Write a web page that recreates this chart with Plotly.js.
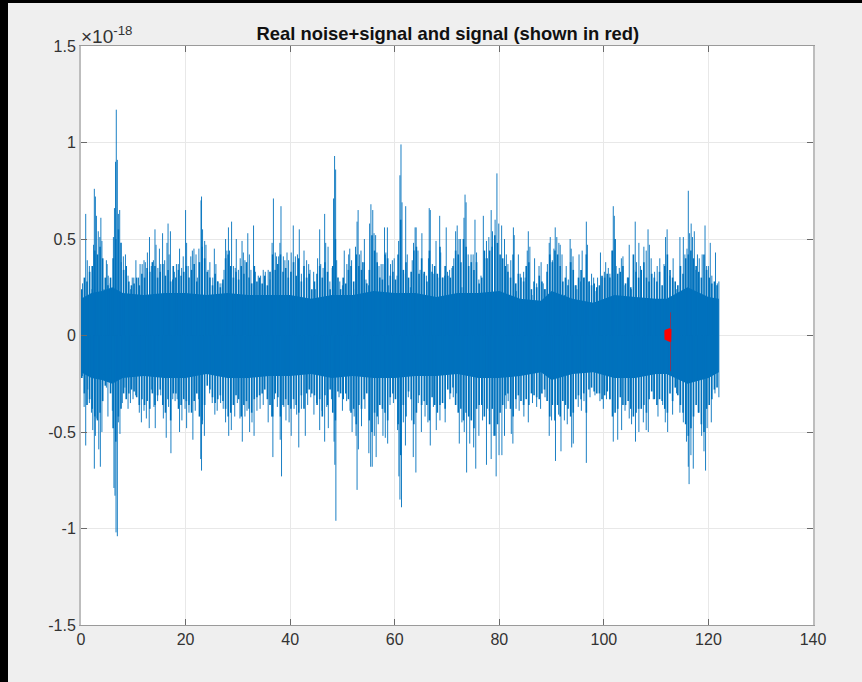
<!DOCTYPE html>
<html><head><meta charset="utf-8">
<script src="https://cdn.plot.ly/plotly-3.0.1.min.js"></script>
<style>html,body{margin:0;padding:0;background:#efefef;overflow:hidden}
#frame{position:absolute;left:0;top:0;width:854px;height:679px;border-left:8px solid #000;border-top:3px solid #000}
#plot{width:854px;height:679px}</style></head><body><div id="frame"><div id="plot"></div></div>
<script>
const titleText='Real noise+signal and signal (shown in red)';
const xTicks=[0,20,40,60,80,100,120,140];
const yTicks=[-1.5,-1,-0.5,0,0.5,1,1.5];
const yTickText=['-1.5','-1','-0.5','0','0.5','1','1.5'];
// upper spikes, in units of 1e-18
const upT=[0.3,0.9,1.2,1.6,2.1,2.4,2.55,2.75,2.95,3.3,3.6,3.8,4.0,4.4,4.85,5.0,5.2,5.6,6.0,6.2,6.4,6.6,6.75,6.95,7.15,7.4,7.7,8.1,8.5,9.0,9.5,9.8,10.1,10.5,11.0,11.3,11.7,12.05,12.3,12.7,13.1,13.45,13.85,14.15,14.35,14.7,15.0,15.25,15.6,16.0,16.45,16.65,16.85,17.1,17.5,17.85,18.25,18.6,18.85,19.25,19.55,20.0,20.2,20.5,21,21.3,21.6,22,22.25,22.55,22.95,23.05,23.25,23.65,23.9,24.3,24.65,25.2,25.5,25.8,26.15,26.6,27,27.35,27.65,27.9,28.2,28.4,28.8,29.15,29.5,29.7,30.1,30.45,30.8,31.05,31.35,31.9,32.2,32.5,33,33.35,33.9,34.35,34.85,35.25,35.8,36.15,36.55,36.8,37.15,37.4,37.8,38.05,38.25,38.7,39,39.4,39.7,
40.2,40.6,41,41.4,41.75,42.15,42.65,43.15,43.55,43.8,44.5,44.8,45.25,45.65,45.85,46.3,46.6,46.8,47.25,47.6,48.05,48.3,48.5,48.7,48.9,49.5,50,50.35,50.85,51.2,51.4,51.75,52.15,52.5,52.8,53,53.25,53.55,53.85,54.2,54.5,55,55.2,55.45,55.8,56.05,56.35,56.6,57,57.4,57.75,58.05,58.3,58.6,58.85,59.2,59.55,59.9,60.45,60.75,61,61.2,61.4,61.7,62.1,62.4,63,63.35,63.6,63.9,64.1,64.45,64.85,65.2,65.6,66.05,66.45,66.6,66.8,67.2,67.5,67.9,68.25,68.6,68.8,69.2,69.55,69.85,70.1,70.5,70.95,71.3,71.65,71.95,72.3,72.55,72.85,73.25,73.45,73.65,74.05,74.6,75,75.35,75.65,76.1,76.5,76.95,77.25,77.55,78,78.45,78.7,79.2,79.55,79.9,80.45,81,81.35,81.65,
82.2,82.7,82.85,83.25,83.65,84,84.65,84.95,85.35,85.55,85.85,86.25,86.75,87.15,87.6,88,88.4,88.8,89.2,89.55,89.75,90.15,90.45,90.7,91,91.4,91.65,92,92.5,92.8,93.2,93.55,93.75,94.1,94.5,94.85,95.25,95.55,95.85,96.25,96.65,96.85,97.25,97.65,98.05,98.5,98.8,99.35,99.65,100.1,100.35,100.85,101.15,101.55,101.8,102,102.35,102.95,103.35,103.65,104.05,104.5,104.85,105.25,105.7,106,106.25,106.7,107,107.65,108.1,108.45,108.7,109.05,109.7,110.2,110.7,111.5,111.8,112.1,112.65,113.25,113.95,114.55,115.2,115.5,115.9,116.15,116.4,116.7,116.95,117.3,117.6,117.9,118.25,118.8,119.35,119.65,120,120.35,120.65,121.35,121.7,122];
const upV=[0.27,0.63,0.39,0.36,0.24,0.47,0.76,0.72,0.62,0.54,0.51,0.61,0.49,0.24,0.39,0.37,0.31,0.27,0.24,0.51,0.66,0.90,1.17,0.91,0.63,0.65,0.38,0.41,0.42,0.31,0.24,0.30,0.30,0.39,0.30,0.37,0.37,0.39,0.38,0.43,0.51,0.36,0.39,0.55,0.47,0.35,0.45,0.37,0.53,0.39,0.48,0.58,0.42,0.54,0.29,0.33,0.37,0.37,0.45,0.35,0.41,0.65,0.48,0.36,0.41,0.44,0.45,0.42,0.30,0.45,0.70,0.72,0.55,0.49,0.47,0.34,0.38,0.30,0.45,0.37,0.28,0.27,0.27,0.34,0.50,0.44,0.56,0.44,0.59,0.36,0.35,0.50,0.34,0.40,0.49,0.43,0.39,0.53,0.42,0.34,0.57,0.33,0.31,0.31,0.34,0.33,0.34,0.29,0.48,0.71,0.43,0.41,0.41,0.48,0.67,0.41,0.39,0.43,0.39,
0.43,0.57,0.41,0.42,0.55,0.32,0.44,0.39,0.37,0.34,0.33,0.24,0.40,0.55,0.37,0.35,0.63,0.48,0.46,0.28,0.35,0.71,0.93,0.86,0.39,0.28,0.26,0.44,0.37,0.42,0.45,0.39,0.24,0.46,0.59,0.65,0.42,0.44,0.38,0.50,0.29,0.26,0.58,0.68,0.65,0.53,0.52,0.43,0.36,0.37,0.37,0.56,0.43,0.56,0.26,0.37,0.39,0.40,0.31,0.49,0.83,0.99,0.69,0.32,0.67,0.42,0.25,0.39,0.48,0.56,0.56,0.44,0.34,0.53,0.32,0.31,0.40,0.66,0.65,0.37,0.32,0.49,0.30,0.62,0.43,0.30,0.31,0.56,0.33,0.34,0.35,0.40,0.54,0.57,0.50,0.50,0.25,0.61,0.73,0.69,0.42,0.42,0.42,0.60,0.43,0.29,0.31,0.62,0.40,0.49,0.51,0.65,0.54,0.60,0.84,0.58,0.57,0.50,0.42,0.37,
0.39,0.56,0.52,0.23,0.42,0.32,0.33,0.30,0.44,0.54,0.46,0.21,0.40,0.27,0.36,0.38,0.27,0.24,0.37,0.48,0.51,0.39,0.45,0.56,0.51,0.48,0.47,0.42,0.21,0.36,0.29,0.50,0.45,0.41,0.26,0.24,0.42,0.28,0.44,0.30,0.59,0.47,0.28,0.32,0.30,0.23,0.30,0.43,0.30,0.33,0.38,0.35,0.32,0.44,0.67,0.62,0.36,0.35,0.40,0.41,0.26,0.30,0.47,0.24,0.34,0.59,0.38,0.48,0.36,0.46,0.44,0.55,0.47,0.40,0.33,0.36,0.40,0.37,0.51,0.55,0.31,0.40,0.24,0.51,0.51,0.42,0.45,0.75,0.53,0.58,0.51,0.54,0.34,0.42,0.40,0.42,0.57,0.36,0.36,0.48,0.31,0.43,0.27,0.28];
// lower spikes
const lowT=[0.3,0.6,0.9,1.3,1.6,2,2.25,2.55,2.75,3.05,3.4,3.7,4,4.4,4.85,5.15,5.55,6,6.3,6.5,6.7,6.95,7.15,7.45,7.9,8.4,9,9.45,9.95,10.45,11.15,11.55,12.05,12.5,13.05,13.45,13.95,14.2,14.65,15.25,15.75,16.3,16.75,17.2,17.55,18,18.4,18.85,19.3,19.9,20.2,20.65,21.4,21.85,22.5,22.9,23.05,23.25,23.6,24.1,24.6,25.1,25.6,26.05,26.7,27.2,27.65,28.25,28.75,29.4,29.9,30.4,30.85,31.35,31.75,32.25,32.7,33.1,33.65,34.25,34.85,35.8,36.45,36.7,37,37.55,38.1,38.35,38.8,39.2,39.8,
40.2,40.75,41.25,41.65,42.15,42.9,43.35,43.95,44.55,45.05,45.65,46.1,46.6,47,47.3,47.9,48.4,48.55,48.75,49.35,50,50.8,51.45,51.85,52.25,52.6,52.8,53.05,53.65,54.3,55.05,55.4,55.7,56.1,56.45,56.85,57.75,58.2,58.65,59.1,59.75,60.55,60.8,61,61.3,61.65,62.05,62.6,63.25,63.55,64.05,64.5,65.1,65.8,66.35,66.8,67.4,67.95,68.65,69.65,70.55,71.2,71.85,72.35,72.85,73.3,73.75,74.35,75.1,75.5,76.1,76.8,77.55,78.1,78.45,78.95,79.4,79.95,80.5,81,81.3,81.7,
82.3,82.6,83.2,83.8,84.7,85.55,86.35,87.15,87.9,88.75,89.55,90,90.75,91.35,91.8,92.45,93,93.85,94.15,95.1,95.7,96.2,96.65,97.35,98.3,99.25,99.9,100.5,101.15,101.8,102.65,103.4,104.05,104.85,105.3,106.05,106.7,107.55,108.1,108.5,109.45,110.35,111.25,111.75,112.2,113.15,113.9,114.55,115.2,115.8,116.15,116.3,116.65,117.1,118.05,118.7,119.15,119.45,119.75,120.55,121.25,122];
const lowV=[-0.21,-0.37,-0.57,-0.28,-0.35,-0.40,-0.49,-0.69,-0.52,-0.43,-0.59,-0.68,-0.50,-0.20,-0.27,-0.42,-0.17,-0.39,-0.79,-0.83,-1.02,-1.04,-0.45,-0.51,-0.35,-0.27,-0.38,-0.35,-0.33,-0.31,-0.40,-0.45,-0.39,-0.43,-0.48,-0.28,-0.37,-0.48,-0.34,-0.31,-0.43,-0.53,-0.37,-0.61,-0.33,-0.34,-0.33,-0.50,-0.44,-0.38,-0.48,-0.40,-0.54,-0.39,-0.33,-0.64,-0.70,-0.44,-0.52,-0.20,-0.30,-0.35,-0.41,-0.39,-0.35,-0.38,-0.45,-0.52,-0.49,-0.42,-0.35,-0.43,-0.55,-0.42,-0.39,-0.50,-0.45,-0.52,-0.39,-0.38,-0.36,-0.45,-0.42,-0.63,-0.33,-0.37,-0.54,-0.73,-0.37,-0.44,-0.45,
-0.52,-0.38,-0.41,-0.58,-0.38,-0.52,-0.36,-0.32,-0.41,-0.35,-0.49,-0.39,-0.55,-0.37,-0.48,-0.33,-0.55,-0.67,-0.96,-0.32,-0.39,-0.34,-0.39,-0.50,-0.42,-0.52,-0.80,-0.59,-0.47,-0.38,-0.61,-0.68,-0.68,-0.52,-0.63,-0.46,-0.52,-0.53,-0.56,-0.36,-0.35,-0.49,-0.73,-0.85,-0.89,-0.45,-0.57,-0.32,-0.44,-0.63,-0.71,-0.35,-0.50,-0.42,-0.45,-0.57,-0.37,-0.49,-0.44,-0.45,-0.33,-0.32,-0.30,-0.56,-0.45,-0.50,-0.71,-0.56,-0.58,-0.69,-0.52,-0.44,-0.67,-0.39,-0.64,-0.52,-0.73,-0.62,-0.62,-0.52,-0.38,-0.34,
-0.51,-0.56,-0.38,-0.39,-0.42,-0.45,-0.35,-0.37,-0.38,-0.32,-0.52,-0.44,-0.65,-0.41,-0.60,-0.44,-0.46,-0.58,-0.56,-0.37,-0.39,-0.34,-0.66,-0.32,-0.31,-0.34,-0.38,-0.33,-0.33,-0.55,-0.54,-0.49,-0.39,-0.43,-0.46,-0.55,-0.50,-0.45,-0.49,-0.50,-0.33,-0.42,-0.36,-0.45,-0.50,-0.41,-0.30,-0.40,-0.45,-0.55,-0.68,-0.77,-0.62,-0.69,-0.40,-0.52,-0.60,-0.70,-0.48,-0.45,-0.30,-0.32];
// denser, lower strokes between the tall spikes (rows of ten units)
const fillT=[
0.15,0.65,1.15,1.65,2.15,2.65,3.15,3.65,4.15,4.65,5.15,5.65,6.15,6.65,7.15,7.65,8.15,8.65,9.15,9.65,
10.15,10.65,11.15,11.65,12.15,12.65,13.15,13.65,14.15,14.65,15.15,15.65,16.15,16.65,17.15,17.65,18.15,18.65,19.15,19.65,
20.15,20.65,21.15,21.65,22.15,22.65,23.15,23.65,24.15,24.65,25.15,25.65,26.15,26.65,27.15,27.65,28.15,28.65,29.15,29.65,
30.15,30.65,31.15,31.65,32.15,32.65,33.15,33.65,34.15,34.65,35.15,35.65,36.15,36.65,37.15,37.65,38.15,38.65,39.15,39.65,
40.15,40.65,41.15,41.65,42.15,42.65,43.15,43.65,44.15,44.65,45.15,45.65,46.15,46.65,47.15,47.65,48.15,48.65,49.15,49.65,
50.15,50.65,51.15,51.65,52.15,52.65,53.15,53.65,54.15,54.65,55.15,55.65,56.15,56.65,57.15,57.65,58.15,58.65,59.15,59.65,
60.15,60.65,61.15,61.65,62.15,62.65,63.15,63.65,64.15,64.65,65.15,65.65,66.15,66.65,67.15,67.65,68.15,68.65,69.15,69.65,
70.15,70.65,71.15,71.65,72.15,72.65,73.15,73.65,74.15,74.65,75.15,75.65,76.15,76.65,77.15,77.65,78.15,78.65,79.15,79.65,
80.15,80.65,81.15,81.65,82.15,82.65,83.15,83.65,84.15,84.65,85.15,85.65,86.15,86.65,87.15,87.65,88.15,88.65,89.15,89.65,
90.15,90.65,91.15,91.65,92.15,92.65,93.15,93.65,94.15,94.65,95.15,95.65,96.15,96.65,97.15,97.65,98.15,98.65,99.15,99.65,
100.15,100.65,101.15,101.65,102.15,102.65,103.15,103.65,104.15,104.65,105.15,105.65,106.15,106.65,107.15,107.65,108.15,108.65,109.15,109.65,
110.15,110.65,111.15,111.65,112.15,112.65,113.15,113.65,114.15,114.65,115.15,115.65,116.15,116.65,117.15,117.65,118.15,118.65,119.15,119.65,
120.15,120.65,121.15,121.65];
const fillUp=[
.24,.30,.28,.33,.36,.44,.42,.46,.40,.30,.26,.30,.40,.50,.55,.48,.34,.36,.28,.26,
.27,.30,.26,.32,.30,.35,.33,.38,.36,.30,.33,.37,.31,.34,.28,.36,.30,.34,.31,.33,
.36,.30,.34,.37,.28,.38,.46,.40,.33,.30,.26,.32,.28,.25,.29,.40,.42,.36,.30,.33,
.29,.36,.32,.38,.30,.27,.36,.28,.30,.27,.31,.26,.33,.42,.34,.37,.42,.33,.35,.30,
.33,.38,.31,.40,.28,.36,.30,.32,.24,.28,.32,.36,.30,.38,.33,.24,.36,.50,.30,.24,
.30,.27,.34,.36,.28,.42,.36,.34,.38,.27,.34,.52,.44,.38,.30,.29,.42,.40,.31,.33,
.29,.42,.60,.34,.38,.30,.33,.44,.46,.32,.40,.33,.28,.44,.33,.36,.32,.46,.30,.36,
.31,.30,.36,.44,.42,.38,.50,.46,.36,.38,.34,.38,.27,.30,.44,.40,.44,.46,.52,.48,
.42,.40,.36,.33,.30,.42,.27,.32,.30,.28,.36,.38,.24,.28,.25,.31,.28,.24,.33,.42,
.38,.44,.42,.36,.28,.30,.26,.38,.34,.26,.30,.34,.30,.42,.28,.26,.27,.25,.26,.31,
.30,.32,.30,.44,.50,.32,.33,.36,.27,.30,.25,.42,.33,.30,.34,.38,.30,.28,.32,.30,
.28,.33,.26,.36,.42,.34,.30,.28,.26,.36,.32,.40,.42,.44,.40,.36,.33,.30,.42,.34,
.30,.27,.28,.26];
const fillLow=[
-.22,-.30,-.36,-.33,-.38,-.42,-.44,-.40,-.34,-.26,-.24,-.30,-.48,-.55,-.42,-.38,-.30,-.33,-.30,-.28,
-.29,-.32,-.36,-.33,-.36,-.34,-.38,-.30,-.36,-.31,-.28,-.36,-.40,-.33,-.44,-.30,-.30,-.38,-.36,-.33,
-.34,-.36,-.40,-.34,-.30,-.42,-.46,-.36,-.26,-.28,-.32,-.35,-.33,-.31,-.34,-.38,-.42,-.40,-.36,-.31,
-.33,-.42,-.36,-.34,-.38,-.40,-.33,-.32,-.31,-.30,-.28,-.33,-.36,-.42,-.30,-.32,-.42,-.36,-.33,-.36,
-.38,-.33,-.36,-.40,-.31,-.38,-.30,-.28,-.30,-.31,-.36,-.33,-.42,-.31,-.36,-.28,-.40,-.44,-.29,-.30,
-.33,-.30,-.33,-.40,-.38,-.46,-.36,-.38,-.33,-.30,-.44,-.50,-.40,-.42,-.36,-.38,-.40,-.44,-.32,-.30,
-.33,-.46,-.62,-.36,-.42,-.29,-.33,-.46,-.40,-.31,-.36,-.34,-.36,-.44,-.32,-.36,-.40,-.36,-.35,-.38,
-.28,-.30,-.27,-.36,-.40,-.38,-.44,-.40,-.42,-.44,-.48,-.38,-.36,-.36,-.42,-.38,-.46,-.38,-.52,-.46,
-.40,-.36,-.31,-.30,-.38,-.42,-.33,-.31,-.34,-.36,-.33,-.36,-.30,-.31,-.32,-.33,-.30,-.28,-.34,-.42,
-.36,-.44,-.36,-.42,-.34,-.36,-.38,-.42,-.40,-.33,-.31,-.33,-.30,-.40,-.28,-.27,-.29,-.30,-.30,-.33,
-.31,-.29,-.33,-.42,-.40,-.38,-.32,-.36,-.36,-.34,-.38,-.42,-.40,-.38,-.38,-.36,-.40,-.33,-.29,-.33,
-.36,-.33,-.34,-.38,-.40,-.30,-.34,-.27,-.31,-.36,-.40,-.46,-.52,-.48,-.42,-.36,-.40,-.46,-.50,-.38,
-.36,-.33,-.28,-.27];
// solid core of the noise band
const coreT=[0,2,4,6,8,12,16,20,24,28,32,36,40,44,48,52,56,60,64,68,72,76,80,84,88,90,94,98,102,106,110,112,116,120,122];
const coreUp=[0.19,0.22,0.23,0.25,0.22,0.21,0.22,0.22,0.21,0.22,0.21,0.21,0.21,0.19,0.21,0.21,0.23,0.22,0.22,0.20,0.22,0.22,0.23,0.19,0.18,0.23,0.19,0.17,0.21,0.20,0.19,0.19,0.25,0.20,0.19];
const coreLow=[-0.19,-0.22,-0.23,-0.25,-0.22,-0.21,-0.22,-0.22,-0.20,-0.22,-0.22,-0.21,-0.21,-0.20,-0.22,-0.21,-0.22,-0.22,-0.21,-0.21,-0.20,-0.22,-0.22,-0.21,-0.19,-0.23,-0.20,-0.19,-0.22,-0.22,-0.20,-0.20,-0.25,-0.22,-0.19];
// signal
const sigT=[111.7,111.75,111.8,111.85,111.9,111.95,112,112.05,112.1,112.15,112.2,112.25,112.3,112.35,112.4,112.45,112.5,112.55,112.6,112.65,112.7];
const sigV=[0.02,-0.02,0.022,-0.022,0.024,-0.024,0.025,-0.025,0.026,-0.026,0.027,-0.027,0.028,-0.028,0.029,-0.029,0.03,-0.03,0.032,-0.032,0.034];
const peakT=[112.75,112.75];
const peakV=[0.12,-0.185];

const blue='#0072BD';
function stems(t,v){const x=[],y=[];t.forEach((a,i)=>{x.push(a,a,null);y.push(0,v[i],null)});return{x,y}}
const su=stems(upT,upV), sl=stems(lowT,lowV), fu=stems(fillT,fillUp), fl=stems(fillT,fillLow);
const traces=[
 {x:coreT.concat(coreT.slice().reverse()),y:coreUp.concat(coreLow.slice().reverse()),mode:'lines',fill:'toself',fillcolor:blue,line:{color:blue,width:0},hoverinfo:'skip'},
 {x:fu.x,y:fu.y,mode:'lines',line:{color:blue,width:1.6}},
 {x:fl.x,y:fl.y,mode:'lines',line:{color:blue,width:1.6}},
 {x:su.x,y:su.y,mode:'lines',line:{color:blue,width:0.9}},
 {x:sl.x,y:sl.y,mode:'lines',line:{color:blue,width:0.9}},
 {x:sigT,y:sigV,mode:'lines',line:{color:'#ff0000',width:2.5}},
 {x:peakT,y:peakV,mode:'lines',line:{color:'rgba(255,0,0,0.5)',width:1}}
];
const font='"Liberation Sans",Arial,Helvetica,sans-serif';
const axis={showline:true,linecolor:'#9a9a9a',linewidth:1,mirror:'ticks',ticks:'inside',ticklen:6,tickwidth:1,tickcolor:'#6a6a6a',
 showgrid:true,gridcolor:'#e8e8e8',gridwidth:1,zeroline:false,tickfont:{family:font,size:16,color:'#333'}};
const layout={width:854,height:679,showlegend:false,paper_bgcolor:'#efefef',plot_bgcolor:'#fff',
 margin:{l:73,r:49,t:43,b:57},
 title:{text:'<b>'+titleText+'</b>',x:0.515,xanchor:'center',y:0.955,yanchor:'middle',font:{family:font,size:18.4,color:'#111'}},
 xaxis:Object.assign({},axis,{range:[0,140],tickmode:'array',tickvals:xTicks,ticktext:xTicks.map(String)}),
 yaxis:Object.assign({},axis,{linecolor:'#bdbdbd',linewidth:2,range:[-1.5,1.5],tickmode:'array',tickvals:yTicks,ticktext:yTickText}),
 annotations:[{text:'×10<sup>-18</sup>',xref:'paper',yref:'paper',x:0,y:1,xanchor:'left',yanchor:'bottom',showarrow:false,xshift:-2,yshift:-3,font:{family:font,size:19,color:'#333'}}]
};
Plotly.newPlot('plot',traces,layout,{displayModeBar:false,staticPlot:true});
</script></body></html>
